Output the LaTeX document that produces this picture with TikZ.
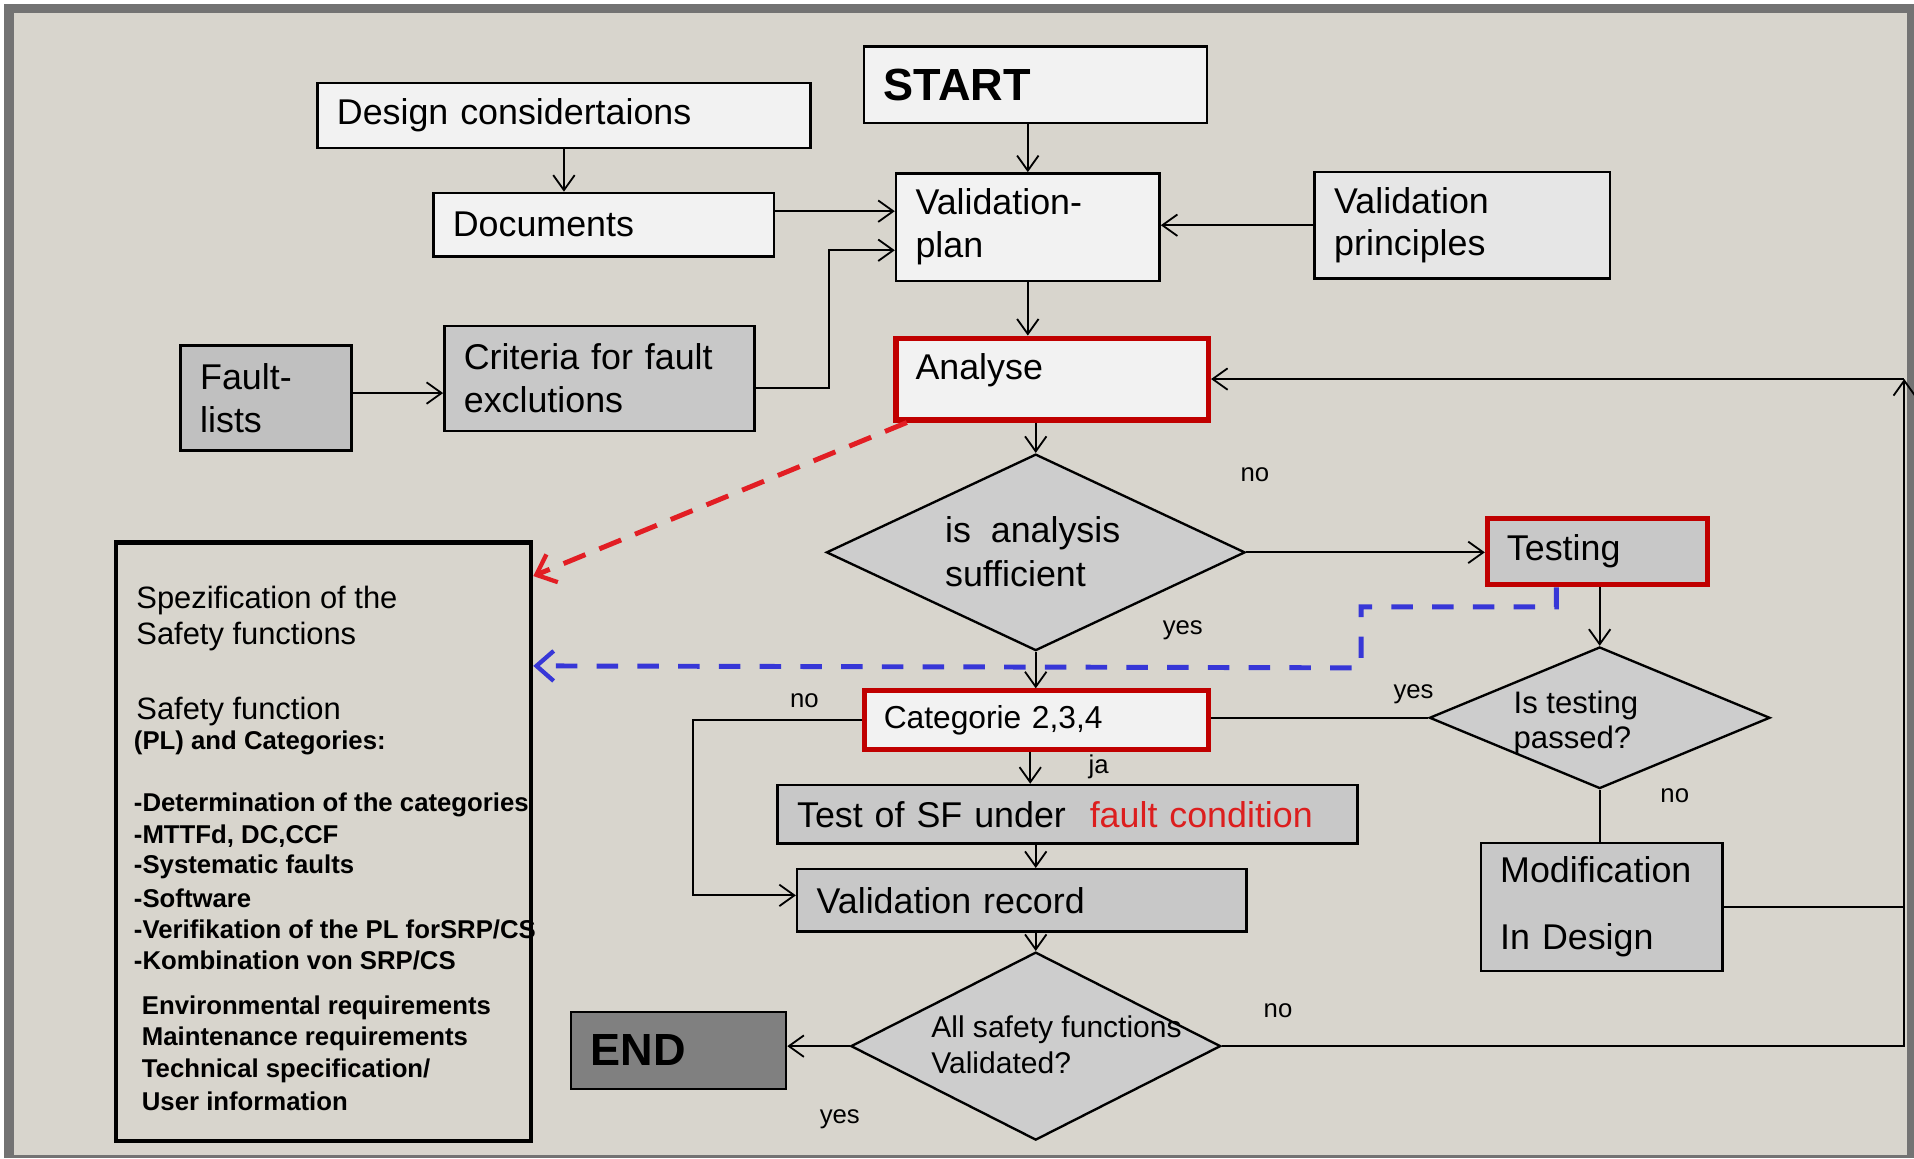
\documentclass[tikz,border=0pt]{standalone}
\usepackage{fontspec}
\setmainfont{Liberation Sans}
\usetikzlibrary{shapes.geometric,arrows.meta}

\definecolor{bgbeige}{RGB}{216,213,205}
\definecolor{framegrey}{RGB}{115,115,115}
\definecolor{lightbox}{RGB}{242,242,242}
\definecolor{midbox}{RGB}{230,230,230}
\definecolor{greybox}{RGB}{200,200,200}
\definecolor{faultgrey}{RGB}{192,192,192}
\definecolor{decgrey}{RGB}{205,205,205}
\definecolor{endgrey}{RGB}{128,128,128}
\definecolor{boxred}{RGB}{192,0,0}
\definecolor{dashred}{RGB}{226,30,36}
\definecolor{dashblue}{RGB}{55,55,215}
\definecolor{textred}{RGB}{220,30,30}

\tikzset{
  box/.style={draw=black, line width=1.1pt, fill=lightbox, align=left,
    inner xsep=0.32cm, inner ysep=0pt, font=\fontsize{16.7}{20}\selectfont},
  greyfill/.style={box, fill=greybox},
  redbox/.style={box, draw=boxred, line width=2.4pt},
  decision/.style={diamond, draw=black, line width=1.1pt, fill=decgrey, inner sep=0pt},
  dectxt/.style={align=left, inner sep=0pt},
  lbl/.style={font=\fontsize{12}{14}\selectfont},
  spectxt/.style={inner sep=0pt, font=\fontsize{14.4}{17}\selectfont},
  specbold/.style={inner sep=0pt, font=\fontsize{12}{14}\selectfont\bfseries},
  arr/.style={-{Straight Barb[length=7pt,width=10pt]}},
  dasharr/.style={-{Straight Barb[length=8pt,width=14pt,line width=2pt]}, line width=2.3pt},
}

\begin{document}
\begin{tikzpicture}[line width=0.85pt]
  % frame and backdrop
  \useasboundingbox (0,0) rectangle (31.36,-18.98);
  \fill[white] (0,0) rectangle (31.36,-18.98);
  \fill[framegrey] (0.06,-0.06) rectangle (31.36,-18.98);
  \fill[bgbeige] (0.23,-0.21) rectangle (31.24,-18.92);

  % boxes
  \node[box, text width=4.98cm, minimum height=1.26cm, font=\fontsize{21}{25}\selectfont\bfseries] (start) at (16.97,-1.39) {START};
  \node[box, text width=7.44cm, minimum height=1.06cm] (design) at (9.24,-1.89) {Design considertaions};
  \node[box, text width=4.94cm, minimum height=1.04cm] (docs) at (9.89,-3.68) {Documents};
  \node[box, text width=3.68cm, minimum height=1.76cm] (vplan) at (16.84,-3.72) {Validation-\\plan};
  \node[box, fill=midbox, text width=4.20cm, minimum height=1.74cm] (vprin) at (23.96,-3.69) {Validation\\principles};
  \node[greyfill, fill=faultgrey, text width=2.16cm, minimum height=1.72cm] (faults) at (4.36,-6.52) {Fault-\\lists};
  \node[greyfill, text width=4.44cm, minimum height=1.72cm] (crit) at (9.82,-6.20) {Criteria for fault\\exclutions};
  \node[redbox, text width=4.48cm, minimum height=1.34cm, text depth=0.4cm] (ana) at (17.24,-6.21) {Analyse};
  \node[redbox, fill=greybox, text width=2.96cm, minimum height=1.09cm] (test) at (26.17,-9.035) {Testing};
  \node[redbox, text width=5.00cm, minimum height=0.96cm, font=\fontsize{14.8}{17}\selectfont] (cat) at (16.98,-11.80) {Categorie 2,3,4};
  \node[greyfill, text width=8.86cm, minimum height=0.96cm] (sf) at (17.49,-13.34) {Test of SF under\ \ \textcolor{textred}{fault condition}};
  \node[greyfill, text width=6.72cm, minimum height=1.02cm] (rec) at (16.74,-14.75) {Validation record};
  \node[greyfill, text width=3.32cm, minimum height=2.10cm] (mod) at (26.24,-14.86) {Modification\\[11pt]In Design};
  \node[box, fill=endgrey, text width=2.88cm, minimum height=1.26cm, font=\fontsize{21}{25}\selectfont\bfseries] (endb) at (11.12,-17.21) {END};

  % decisions
  \node[decision, minimum width=6.86cm, minimum height=3.22cm] (dana) at (16.97,-9.05) {};
  \node[dectxt, font=\fontsize{16.7}{20.2}\selectfont] (dana-t) at (16.92,-9.04) {is\ \ analysis\\sufficient};
  \node[decision, minimum width=5.58cm, minimum height=2.32cm] (dtest) at (26.21,-11.76) {};
  \node[dectxt, font=\fontsize{14.5}{16.5}\selectfont] (dtest-t) at (25.82,-11.84) {Is testing\\passed?};
  \node[decision, minimum width=6.06cm, minimum height=3.08cm] (dall) at (16.97,-17.14) {};
  \node[dectxt, font=\fontsize{14}{17}\selectfont] (dall-t) at (17.31,-17.12) {All safety functions\\Validated?};

  % specification list
  \node[draw=black, line width=2.1pt, minimum width=6.80cm, minimum height=9.81cm, inner sep=0pt] (spec) at (5.30,-13.79) {};
  \node[spectxt, anchor=west] (sp1) at (2.22,-9.84) {Spezification of the};
  \node[spectxt, anchor=west] (sp2) at (2.22,-10.43) {Safety functions};
  \node[spectxt, anchor=west] (sp3) at (2.22,-11.66) {Safety function};
  \node[specbold, anchor=west] (sp4) at (2.18,-12.17) {(PL) and Categories:};
  \foreach \y/\txt [count=\i] in {13.18/{-Determination of the categories}, 13.70/{-MTTFd, DC,CCF},
      14.21/{-Systematic faults}, 14.72/{-Software}, 15.22/{-Verifikation of the PL forSRP/CS},
      15.74/{-Kombination von SRP/CS}}
    \node[specbold, anchor=west] (item\i) at (2.18,-\y) {\txt};
  \foreach \y/\txt [count=\i] in {16.52/{Environmental requirements}, 17.02/{Maintenance requirements},
      17.54/{Technical specification/}, 18.05/{User information}}
    \node[specbold, anchor=west] (req\i) at (2.31,-\y) {\txt};

  % connectors
  \draw[arr] (vplan.north |- start.south) -- (vplan.north);
  \draw[arr] (design.south) -- (design.south |- docs.north);
  \draw[arr] ([yshift=0.22cm]docs.east) -- ([yshift=0.22cm]docs.east -| vplan.west);
  \draw[arr] ([yshift=-0.16cm]crit.east) -- ++(1.2,0) |- ([yshift=-0.38cm]vplan.west);
  \draw[arr] ([yshift=0.08cm]faults.east) -- ([yshift=0.08cm]faults.east -| crit.west);
  \draw[arr] (vprin.west) -- (vprin.west -| vplan.east);
  \draw[arr] (vplan.south) -- (vplan.south |- ana.north);
  \draw[arr] (dana.north |- ana.south) -- (dana.north);
  \draw[arr] (dana.east) -- (dana.east -| test.west);
  \draw[arr] (dana.south) -- (dana.south |- cat.north);
  \draw[arr] (dtest.north |- test.south) -- (dtest.north);
  \draw (dtest.west) -- (dtest.west -| cat.east);
  \draw[arr] (cat.west) -- ++(-2.76,0) |- ([yshift=0.08cm]rec.west);
  \draw[arr] ([xshift=-0.1cm]cat.south) -- ([xshift=-0.1cm]cat.south |- sf.north);
  \draw[arr] (dall.north |- sf.south) -- (dall.north |- rec.north);
  \draw[arr] (dall.north |- rec.south) -- (dall.north);
  \draw[arr] (dall.west) -- (dall.west -| endb.east);
  \draw (dtest.south) -- (dtest.south |- mod.north);
  \coordinate (back) at (31.2,-6.21);
  \draw[arr] (dall.east) -| (back);
  \draw[arr] (back) -- (ana.east);
  \draw (mod.east) -- (mod.east -| back);

  % dashed links to the specification
  \draw[dasharr, draw=dashred, dash pattern=on 11pt off 7pt] ([xshift=0.22cm]ana.south west) -- ([yshift=-0.59cm]spec.north east);
  \draw[dasharr, draw=dashblue, dash pattern=on 10pt off 9pt] ([xshift=-0.67cm]test.south) -- ++(0,-0.32) -| ++(-3.2,-1.0) -- ([yshift=2.88cm]spec.east);

  % branch labels
  \node[lbl] (no1) at (20.56,-7.78) {no};
  \node[lbl] (yes1) at (19.38,-10.32) {yes};
  \node[lbl] (yes2) at (23.16,-11.38) {yes};
  \node[lbl] (no2) at (27.44,-13.04) {no};
  \node[lbl] (no3) at (13.18,-11.48) {no};
  \node[lbl] (ja) at (18.0,-12.56) {ja};
  \node[lbl] (no4) at (20.94,-16.56) {no};
  \node[lbl] (yes3) at (13.76,-18.34) {yes};
\end{tikzpicture}
\end{document}
